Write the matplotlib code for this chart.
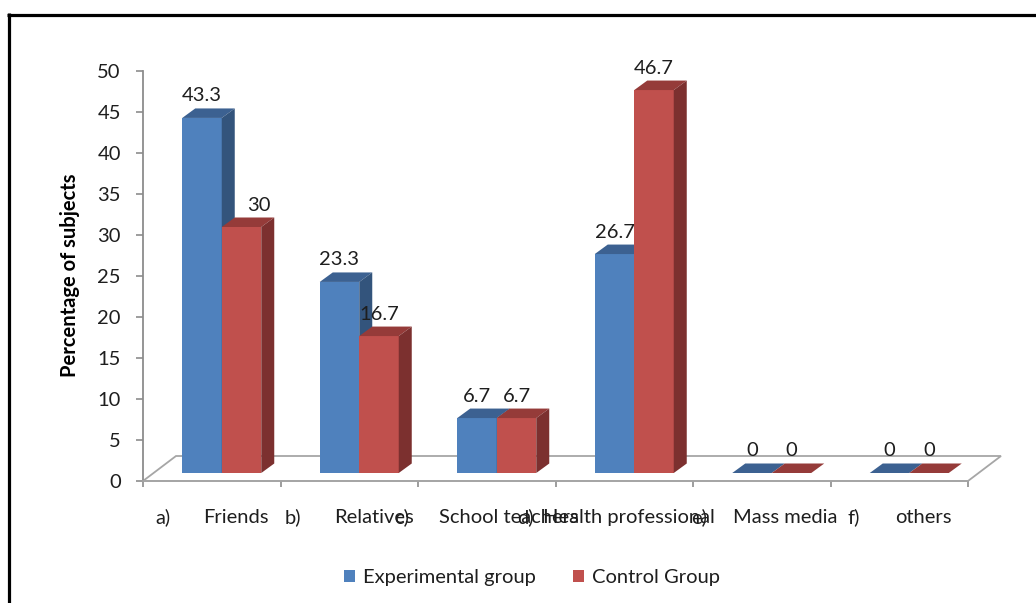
import matplotlib
matplotlib.use("Agg")
import matplotlib.pyplot as plt
from matplotlib.patches import Polygon, Patch
from matplotlib.lines import Line2D

# ---- data ----
prefixes = ["a)", "b)", "c)", "d)", "e)", "f)"]
categories = ["Friends", "Relatives", "School teachers", "Health professional",
              "Mass media", "others"]
experimental = [43.3, 23.3, 6.7, 26.7, 0, 0]
control = [30, 16.7, 6.7, 46.7, 0, 0]
series_names = ["Experimental group", "Control Group"]
y_ticks = [0, 5, 10, 15, 20, 25, 30, 35, 40, 45, 50]
y_label = "Percentage of subjects"

# ---- styling ----
plt.rcParams["font.family"] = ["Lato", "DejaVu Sans"]
TEXT = "#1E1E1E"
AXIS = "#8C8C8C"
FLOOR = "#A6A6A6"
FS = 14.5
colors = {
    "front": ["#4F81BD", "#C0504D"],
    "top": ["#3C6191", "#953B39"],
    "side": ["#33547C", "#7C302F"],
}

W, H = 1036, 603
fig = plt.figure(figsize=(W / 100, H / 100), dpi=100)
fig.patch.set_facecolor("white")

# plot box in pixels (front plane of the 3-D floor)
left_px, right_px, top_px, bottom_px = 143, 968, 71, 481
ax = fig.add_axes([left_px / W, 1 - bottom_px / H,
                   (right_px - left_px) / W, (bottom_px - top_px) / H])
n = len(categories)
ax.set_xlim(-0.5, n - 0.5)
ax.set_ylim(0, y_ticks[-1])
sx = (right_px - left_px) / n            # px per category
sy = (bottom_px - top_px) / y_ticks[-1]  # px per percent


def dx(p):
    return p / sx


def dy(p):
    return p / sy


# floor of the 3-D plot area
floor_depth = (dx(33), dy(25))
floor = Polygon([(-0.5, 0), (n - 0.5, 0),
                 (n - 0.5 + floor_depth[0], floor_depth[1]),
                 (-0.5 + floor_depth[0], floor_depth[1])],
                closed=True, facecolor="white", edgecolor=FLOOR,
                linewidth=1.3, clip_on=False, zorder=1)
ax.add_patch(floor)

# bar geometry
bar_w = dx(39.5)
off_x, off_y = dx(10), dy(8)          # bars stand in the middle of the floor
depth_x, depth_y = dx(13), dy(9.5)     # bar depth

series = [experimental, control]
label_nudge = {(1, 0): dx(17)}

for s, vals in enumerate(series):
    z = 2 + s
    lefts = [i - bar_w + off_x + s * bar_w for i in range(n)]
    ax.bar(lefts, vals, width=bar_w, bottom=off_y, align="edge",
           color=colors["front"][s], linewidth=0, clip_on=False, zorder=z)
    for i, v in enumerate(vals):
        x0 = lefts[i]
        x1 = x0 + bar_w
        b = off_y
        t = off_y + v
        top = Polygon([(x0, t), (x1, t), (x1 + depth_x, t + depth_y),
                       (x0 + depth_x, t + depth_y)], closed=True,
                      facecolor=colors["top"][s], linewidth=0,
                      clip_on=False, zorder=z + 0.1)
        ax.add_patch(top)
        if v > 0:
            side = Polygon([(x1, b), (x1 + depth_x, b + depth_y),
                            (x1 + depth_x, t + depth_y), (x1, t)],
                           closed=True, facecolor=colors["side"][s],
                           linewidth=0, clip_on=False, zorder=z + 0.1)
            ax.add_patch(side)
        ax.text(x0 + bar_w / 2 + label_nudge.get((s, i), 0), t + dy(22),
                f"{v:g}", ha="center", va="center", fontsize=FS,
                color=TEXT, zorder=10, clip_on=False)

# axes
for side in ["top", "right"]:
    ax.spines[side].set_visible(False)
ax.spines["left"].set_color(AXIS)
ax.spines["bottom"].set_color(FLOOR)
ax.spines["left"].set_linewidth(1.3)
ax.spines["bottom"].set_linewidth(1.3)
ax.set_yticks(y_ticks)
ax.set_yticklabels([str(t) for t in y_ticks])
ax.tick_params(axis="y", direction="out", length=5, width=1.2, color=AXIS,
               pad=11, labelsize=FS, labelcolor=TEXT)
ax.set_xticks([i - 0.5 for i in range(n + 1)])
ax.set_xticklabels([])
ax.tick_params(axis="x", direction="out", length=4.5, width=1.2, color=AXIS)
ax.set_facecolor("none")

# category labels: letter and name laid out like tab-separated text
prefix_off = [-56, -65, -93, -107, -71, -52]
name_off = [-9, -15, -48, -81, -29, -4]
base_y = -dy(523 - bottom_px)
for i in range(n):
    ax.text(i + dx(prefix_off[i]), base_y, prefixes[i], ha="left",
            va="baseline", fontsize=FS, color=TEXT, clip_on=False)
    ax.text(i + dx(name_off[i]), base_y, categories[i], ha="left",
            va="baseline", fontsize=FS, color=TEXT, clip_on=False)

fig.text(70 / W, 1 - 275 / H, y_label, rotation=90, ha="center",
         va="center", fontsize=14.5, fontweight="bold", color="black")

# legend
handles = [Patch(facecolor=colors["front"][k], edgecolor="none")
           for k in range(2)]
fig.legend(handles, series_names, loc="center",
           bbox_to_anchor=(532 / W, 1 - 578 / H), ncol=2, frameon=False,
           fontsize=FS, handlelength=0.55, handleheight=0.55,
           handletextpad=0.4, columnspacing=1.8, labelcolor=TEXT)

# outer chart frame (top and left edges)
fig.add_artist(Line2D([8.5 / W, 8.5 / W], [0, 1 - 13 / H],
                      transform=fig.transFigure, color="black", lw=2.3,
                      solid_capstyle="butt"))
fig.add_artist(Line2D([7 / W, 1], [1 - 14.5 / H, 1 - 14.5 / H],
                      transform=fig.transFigure, color="black", lw=2.3,
                      solid_capstyle="butt"))

fig.savefig("out.png", dpi=100)
